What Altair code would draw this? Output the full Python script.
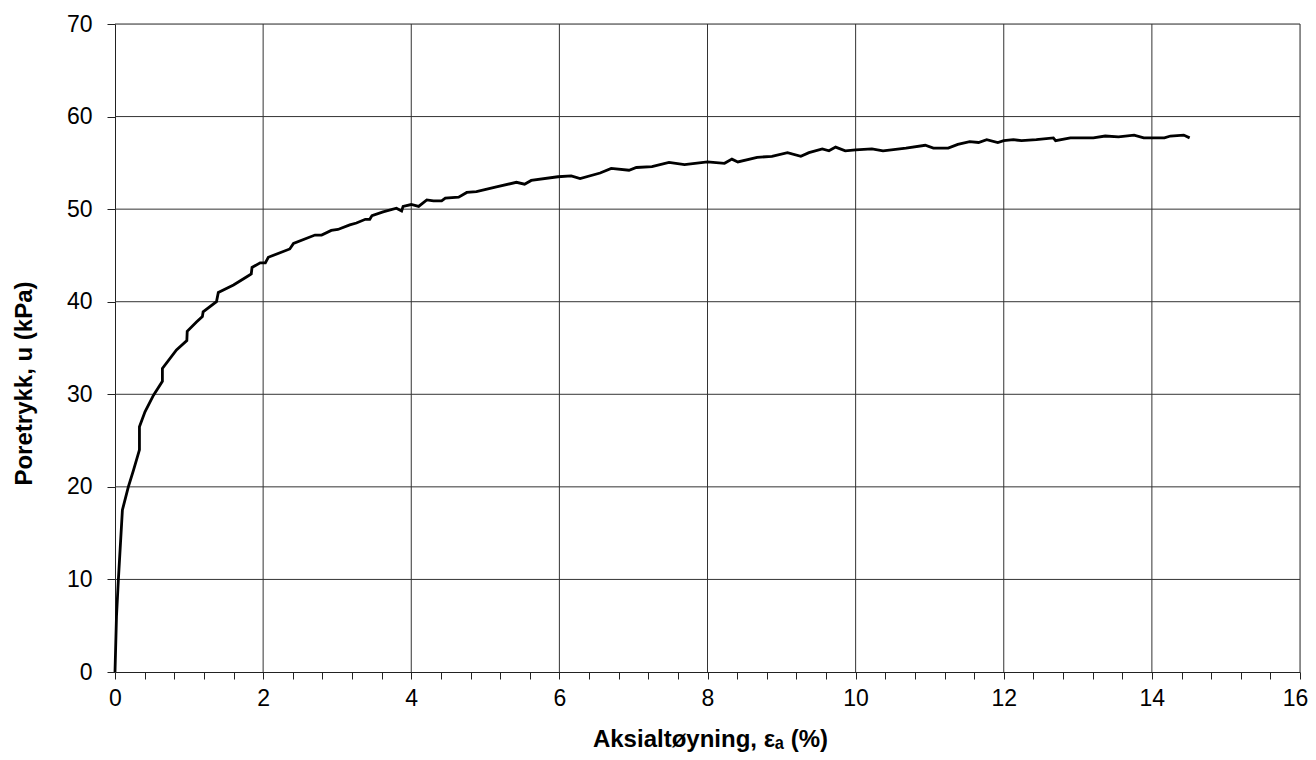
import altair as alt
import pandas as pd

# Curve (axial strain %, pore pressure kPa)
strain = [0, 0.02, 0.045, 0.10, 0.18, 0.25, 0.33, 0.33, 0.405, 0.52,
          0.64, 0.64, 0.83, 0.97, 0.975, 1.10, 1.18, 1.19, 1.37, 1.395,
          1.60, 1.78, 1.84, 1.85, 1.96, 2.03, 2.07, 2.36, 2.41, 2.70,
          2.79, 2.92, 3.01, 3.17, 3.26, 3.38, 3.44, 3.47, 3.62, 3.80,
          3.87, 3.89, 4.00, 4.10, 4.21, 4.30, 4.41, 4.46, 4.64, 4.75,
          4.88, 5.15, 5.42, 5.53, 5.62, 5.98, 6.16, 6.28, 6.55, 6.70,
          6.94, 7.04, 7.25, 7.48, 7.69, 8.00, 8.23, 8.33, 8.41, 8.67,
          8.87, 9.08, 9.26, 9.37, 9.55, 9.64, 9.73, 9.86, 10.00, 10.22,
          10.37, 10.68, 10.94, 11.05, 11.25, 11.38, 11.54, 11.66, 11.77, 11.92,
          12.00, 12.13, 12.24, 12.44, 12.67, 12.70, 12.90, 13.21, 13.37, 13.55,
          13.76, 13.89, 14.17, 14.25, 14.43, 14.51]
pore = [0, 6.0, 9.9, 17.5, 20.0, 21.8, 24.0, 26.5, 28.1, 29.9,
        31.4, 32.8, 34.8, 35.8, 36.8, 37.8, 38.4, 38.9, 40.0, 41.0,
        41.8, 42.7, 43.0, 43.7, 44.2, 44.2, 44.8, 45.7, 46.3, 47.2,
        47.2, 47.7, 47.8, 48.3, 48.5, 48.9, 48.9, 49.3, 49.7, 50.1,
        49.8, 50.3, 50.5, 50.3, 51.0, 50.9, 50.9, 51.2, 51.3, 51.8,
        51.9, 52.4, 52.9, 52.7, 53.1, 53.5, 53.6, 53.3, 53.9, 54.4,
        54.2, 54.5, 54.6, 55.06, 54.8, 55.1, 54.95, 55.4, 55.1, 55.6,
        55.7, 56.1, 55.7, 56.1, 56.5, 56.3, 56.7, 56.3, 56.4, 56.5,
        56.3, 56.6, 56.9, 56.6, 56.6, 57.0, 57.3, 57.2, 57.5, 57.2,
        57.4, 57.5, 57.4, 57.5, 57.7, 57.4, 57.7, 57.7, 57.9, 57.8,
        58.0, 57.7, 57.7, 57.9, 58.0, 57.7]

x_grid = [2, 4, 6, 8, 10, 12, 14, 16]
y_grid = [10, 20, 30, 40, 50, 60, 70]
x_ticks = [0, 0.4, 0.8, 1.2, 1.6, 2, 2.4, 2.8, 3.2, 3.6, 4, 4.4, 4.8, 5.2, 5.6,
           6, 6.4, 6.8, 7.2, 7.6, 8, 8.4, 8.8, 9.2, 9.6, 10, 10.4, 10.8, 11.2,
           11.6, 12, 12.4, 12.8, 13.2, 13.6, 14, 14.4, 14.8, 15.2, 15.6, 16]
y_ticks = [0, 10, 20, 30, 40, 50, 60, 70]

curve = pd.DataFrame({"i": list(range(len(strain))), "x": strain, "y": pore})
gx = pd.DataFrame({"x": x_grid})
gy = pd.DataFrame({"y": y_grid})

FONT = "Liberation Sans"
FS = 23
xscale = alt.Scale(domain=[0, 16], nice=False, zero=False)
yscale = alt.Scale(domain=[0, 70], nice=False, zero=False)

xaxis = alt.Axis(
    values=x_ticks, grid=False, tickSize=7, tickColor="#222", domainColor="#222",
    labelExpr="abs(datum.value - 2*round(datum.value/2)) < 0.001 ? format(datum.value, 'd') : ''",
    labelOverlap=False, labelFlush=False, labelFontSize=FS, labelFont=FONT,
    labelColor="black", labelPadding=8,
    labelOffset={"condition": {"test": "datum.value >= 15.9", "value": -5}, "value": 0},
    title="Aksialtøyning, εₐ (%)", titleFont=FONT,
    titleFontSize=FS + 1, titleFontWeight="bold", titleColor="black",
    titleX=595, titleY=74, titleBaseline="alphabetic",
)
yaxis = alt.Axis(
    values=y_ticks, grid=False, tickSize=8, tickColor="#222", domainColor="#222",
    labelFontSize=FS, labelFont=FONT, labelColor="black", labelPadding=15,
    labelFlush=False,
    title="Poretrykk, u (kPa)", titleFont=FONT, titleFontSize=FS + 1,
    titleFontWeight="bold", titleColor="black",
    titleX=-91, titleY=359, titleBaseline="middle",
)

vgrid = alt.Chart(gx).mark_rule(color="#333", strokeWidth=1).encode(
    x=alt.X("x:Q", scale=xscale, axis=xaxis)
)
hgrid = alt.Chart(gy).mark_rule(color="#333", strokeWidth=1).encode(
    y=alt.Y("y:Q", scale=yscale, axis=yaxis)
)
line = alt.Chart(curve).mark_line(color="black", strokeWidth=2.8).encode(
    x=alt.X("x:Q", scale=xscale, axis=xaxis),
    y=alt.Y("y:Q", scale=yscale, axis=yaxis),
    order="i:Q",
)

chart = alt.layer(vgrid, hgrid, line).properties(
    width=1185, height=648,
    padding={"left": 107, "top": 16, "right": 8, "bottom": 80},
    autosize=alt.AutoSizeParams(type="none"),
).configure_view(stroke=None).configure(background="white")

chart.save("out.html", embed_options={"renderer": "svg", "actions": False})
